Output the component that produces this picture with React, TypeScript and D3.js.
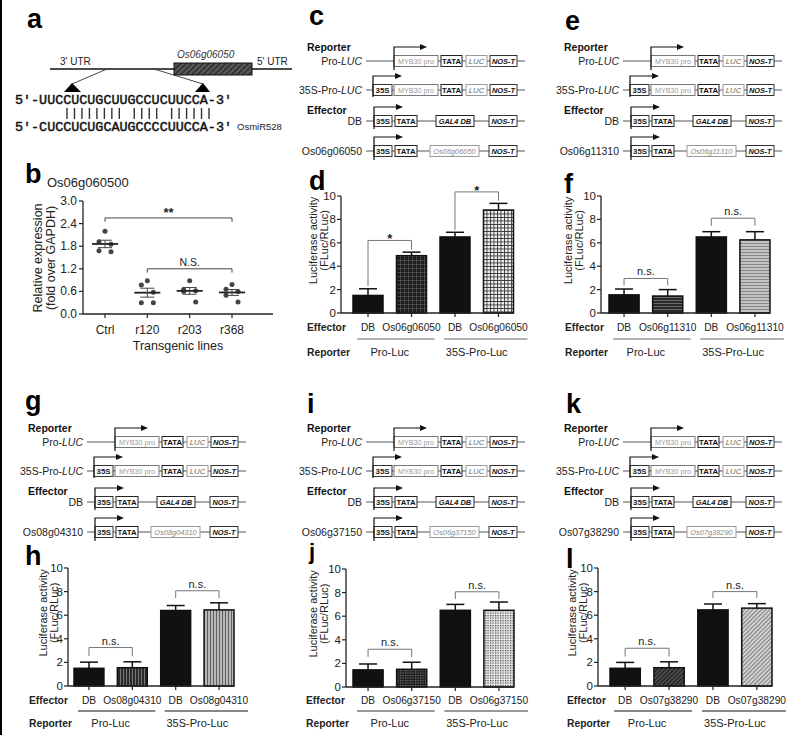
import React from "react";
import * as d3 from "d3";

const FONT = "'Liberation Sans', Arial, Helvetica, sans-serif";
const MONO = "'Liberation Mono', 'Courier New', monospace";

// ---------- Panel a data ----------
const targetSeq = "UUCCUCUGCUUGCCUCUUCCA";
const mirSeq = "CUCCUCUGCAUGCCCCUUCCA";

// ---------- Panel b data ----------
const bCategories = ["Ctrl", "r120", "r203", "r368"];
const bCtrl = [2.2, 1.92, 1.85, 1.68, 1.65];
const bR120 = [0.88, 0.77, 0.58, 0.3, 0.3];
const bR203 = [0.88, 0.65, 0.62, 0.6, 0.32];
const bR368 = [0.78, 0.66, 0.6, 0.5, 0.32];
const bJitter = [0, -6, 6, -6, 6];
const bYTicks = [0, 0.6, 1.2, 1.8, 2.4, 3.0];

// ---------- Bar panels data ----------
const barTicks = [0, 2, 4, 6, 8, 10];
const reporters = ["Pro-Luc", "35S-Pro-Luc"];

const dEffectors = ["DB", "Os06g06050", "DB", "Os06g06050"];
const dValues = [1.5, 4.9, 6.5, 8.8];
const dErrors = [0.57, 0.3, 0.4, 0.57];
const dBrackets = [
  { a: 0, b: 1, y: 6.2, la: 2.3, ra: 5.4, label: "*" },
  { a: 2, b: 3, y: 10.35, la: 7.1, ra: 9.6, label: "*" },
];

const fEffectors = ["DB", "Os06g11310", "DB", "Os06g11310"];
const fValues = [1.55, 1.45, 6.5, 6.25];
const fErrors = [0.5, 0.55, 0.45, 0.7];
const fBrackets = [
  { a: 0, b: 1, y: 2.95, la: 2.35, ra: 2.35, label: "n.s." },
  { a: 2, b: 3, y: 8.1, la: 7.45, ra: 7.45, label: "n.s." },
];

const hEffectors = ["DB", "Os08g04310", "DB", "Os08g04310"];
const hValues = [1.5, 1.55, 6.4, 6.45];
const hErrors = [0.52, 0.5, 0.42, 0.6];
const hBrackets = [
  { a: 0, b: 1, y: 3.26, la: 2.55, ra: 2.55, label: "n.s." },
  { a: 2, b: 3, y: 8.07, la: 7.45, ra: 7.45, label: "n.s." },
];

const jEffectors = ["DB", "Os06g37150", "DB", "Os06g37150"];
const jValues = [1.45, 1.5, 6.5, 6.5];
const jErrors = [0.5, 0.6, 0.5, 0.7];
const jBrackets = [
  { a: 0, b: 1, y: 3.2, la: 2.55, ra: 2.55, label: "n.s." },
  { a: 2, b: 3, y: 8.07, la: 7.45, ra: 7.45, label: "n.s." },
];

const lEffectors = ["DB", "Os07g38290", "DB", "Os07g38290"];
const lValues = [1.5, 1.55, 6.45, 6.6];
const lErrors = [0.5, 0.5, 0.5, 0.38];
const lBrackets = [
  { a: 0, b: 1, y: 3.2, la: 2.5, ra: 2.5, label: "n.s." },
  { a: 2, b: 3, y: 8.0, la: 7.45, ra: 7.45, label: "n.s." },
];

// ---------- Construct genes ----------
const geneC = "Os06g06050";
const geneE = "Os06g11310";
const geneG = "Os08g04310";
const geneI = "Os06g37150";
const geneK = "Os07g38290";

// ================= components =================

function PanelLetter({ x, y, t, size = 27 }: { x: number; y: number; t: string; size?: number }) {
  return (
    <text x={x} y={y} fontFamily={FONT} fontWeight="bold" fontSize={size} fill="#000">
      {t}
    </text>
  );
}

function PanelA() {
  const x0 = 15;
  const pairs = d3.range(targetSeq.length).filter((i) => targetSeq[i] === mirSeq[i]);
  const barX = d3.scaleLinear().domain([1, 20]).range([67, 209]);
  return (
    <g fontFamily={FONT}>
      <text x={60} y={65} fontSize={10} fill="#222">3' UTR</text>
      <text x={177} y={58} fontSize={10} fontStyle="italic" fill="#333">Os06g06050</text>
      <text x={257} y={65} fontSize={10} fill="#222">5' UTR</text>
      <line x1={50} x2={292} y1={69} y2={69} stroke="#111" strokeWidth={1.3} />
      <rect x={174} y={63} width={78} height={12} fill="url(#hatchA)" stroke="#111" strokeWidth={1} />
      <line x1={107} y1={69} x2={72} y2={84} stroke="#333" strokeWidth={0.9} />
      <line x1={154} y1={69} x2={203} y2={84} stroke="#333" strokeWidth={0.9} />
      <path d="M72,83 L64,92 L81,92 Z" fill="#000" />
      <path d="M203,83 L195,92 L210,92 Z" fill="#000" />
      <text x={x0} y={104} fontFamily={MONO} fontSize={13.4} fill="#111" stroke="#111" strokeWidth={0.45}>
        {"5'-" + targetSeq + "-3'"}
      </text>
      {pairs.map((i) => (
        <line key={i} x1={barX(i)} x2={barX(i)} y1={108} y2={119} stroke="#333" strokeWidth={1.4} />
      ))}
      <text x={x0} y={131} fontFamily={MONO} fontSize={13.4} fill="#111" stroke="#111" strokeWidth={0.45}>
        {"5'-" + mirSeq + "-3'"}
      </text>
      <text x={237} y={130} fontSize={9.5} fill="#222">OsmiR528</text>
    </g>
  );
}

function PanelB() {
  const y = d3.scaleLinear().domain([0, 3]).range([314, 201]);
  const x = d3.scalePoint().domain(bCategories).range([105, 232]);
  const groups = [bCtrl, bR120, bR203, bR368];
  const axisX = 83;
  return (
    <g fontFamily={FONT} fill="#222">
      <text x={47} y={187} fontSize={13} fill="#222">Os06g060500</text>
      <line x1={axisX} x2={axisX} y1={201} y2={314} stroke="#222" strokeWidth={1.3} />
      <line x1={axisX} x2={273} y1={314} y2={314} stroke="#222" strokeWidth={1.3} />
      {bYTicks.map((t) => (
        <g key={t}>
          <line x1={axisX - 4} x2={axisX} y1={y(t)} y2={y(t)} stroke="#222" strokeWidth={1.2} />
          <text x={axisX - 6} y={y(t) + 4} fontSize={12} textAnchor="end">{t.toFixed(1)}</text>
        </g>
      ))}
      {bCategories.map((c) => (
        <g key={c}>
          <line x1={x(c)!} x2={x(c)!} y1={314} y2={318} stroke="#222" strokeWidth={1.2} />
          <text x={x(c)!} y={334} fontSize={12} textAnchor="middle">{c}</text>
        </g>
      ))}
      <text x={178} y={350} fontSize={12.5} textAnchor="middle">Transgenic lines</text>
      <g transform={`translate(42,258) rotate(-90)`}>
        <text fontSize={12.5} textAnchor="middle">Relative expression</text>
      </g>
      <g transform={`translate(55,258) rotate(-90)`}>
        <text fontSize={12.5} textAnchor="middle">(fold over GAPDH)</text>
      </g>
      {groups.map((vals, gi) => {
        const cx = x(bCategories[gi])!;
        const mean = d3.mean(vals)!;
        const sem = d3.deviation(vals)! / Math.sqrt(vals.length);
        return (
          <g key={gi}>
            {vals.map((v, i) => (
              <circle key={i} cx={cx + bJitter[i]} cy={y(v)} r={2.5} fill="#444" />
            ))}
            <line x1={cx - 13} x2={cx + 13} y1={y(mean)} y2={y(mean)} stroke="#222" strokeWidth={1.8} />
            <line x1={cx} x2={cx} y1={y(mean - sem)} y2={y(mean + sem)} stroke="#444" strokeWidth={1} />
            <line x1={cx - 7} x2={cx + 7} y1={y(mean + sem)} y2={y(mean + sem)} stroke="#444" strokeWidth={1} />
            <line x1={cx - 7} x2={cx + 7} y1={y(mean - sem)} y2={y(mean - sem)} stroke="#444" strokeWidth={1} />
          </g>
        );
      })}
      <path d={`M${x("Ctrl")},${y(2.45)} V${y(2.55)} H${x("r368")} V${y(2.45)}`} fill="none" stroke="#444" strokeWidth={1} />
      <text x={(x("Ctrl")! + x("r368")!) / 2} y={y(2.55) - 1} fontSize={13} fontWeight="bold" textAnchor="middle">**</text>
      <path d={`M${x("r120")},${y(1.1)} V${y(1.2)} H${x("r368")} V${y(1.1)}`} fill="none" stroke="#444" strokeWidth={1} />
      <text x={(x("r120")! + x("r368")!) / 2} y={y(1.2) - 3} fontSize={10.5} textAnchor="middle">N.S.</text>
    </g>
  );
}

type BoxKind = "pro" | "tata" | "luc" | "nos" | "s35" | "gal" | "gene";
const boxStyle: Record<BoxKind, { stroke: string; fill: string; size: number; weight: string; italic: boolean }> = {
  pro: { stroke: "#777", fill: "#999", size: 7.2, weight: "normal", italic: false },
  tata: { stroke: "#222", fill: "#111", size: 7.8, weight: "bold", italic: false },
  luc: { stroke: "#999", fill: "#666", size: 7.8, weight: "normal", italic: true },
  nos: { stroke: "#333", fill: "#111", size: 7.4, weight: "bold", italic: true },
  s35: { stroke: "#333", fill: "#222", size: 7.8, weight: "bold", italic: false },
  gal: { stroke: "#222", fill: "#111", size: 7.4, weight: "bold", italic: true },
  gene: { stroke: "#999", fill: "#888", size: 7.4, weight: "normal", italic: true },
};

function Construct({ dx, dy, gene }: { dx: number; dy: number; gene: string }) {
  const rowsY = [61, 90, 121, 151];
  const rows: { x0: number; x1: number; label: string; kind: BoxKind }[][] = [
    [
      { x0: 394, x1: 438, label: "MYB30 pro", kind: "pro" },
      { x0: 441, x1: 462, label: "TATA", kind: "tata" },
      { x0: 466, x1: 487, label: "LUC", kind: "luc" },
      { x0: 490, x1: 517, label: "NOS-T", kind: "nos" },
    ],
    [
      { x0: 373, x1: 392, label: "35S", kind: "s35" },
      { x0: 394, x1: 438, label: "MYB30 pro", kind: "pro" },
      { x0: 441, x1: 462, label: "TATA", kind: "tata" },
      { x0: 466, x1: 487, label: "LUC", kind: "luc" },
      { x0: 490, x1: 517, label: "NOS-T", kind: "nos" },
    ],
    [
      { x0: 374, x1: 392, label: "35S", kind: "s35" },
      { x0: 395, x1: 417, label: "TATA", kind: "tata" },
      { x0: 436, x1: 474, label: "GAL4 DB", kind: "gal" },
      { x0: 489, x1: 517, label: "NOS-T", kind: "nos" },
    ],
    [
      { x0: 374, x1: 392, label: "35S", kind: "s35" },
      { x0: 395, x1: 417, label: "TATA", kind: "tata" },
      { x0: 430, x1: 479, label: gene, kind: "gene" },
      { x0: 489, x1: 517, label: "NOS-T", kind: "nos" },
    ],
  ];
  const arrows = [
    { x: 394, top: 47, bot: 70, end: 427 },
    { x: 373, top: 76, bot: 97, end: 402 },
    { x: 374, top: 107, bot: 129, end: 403 },
    { x: 374, top: 137, bot: 160, end: 403 },
  ];
  const labels: React.ReactNode[] = [
    <>Pro-<tspan fontStyle="italic">LUC</tspan></>,
    <>35S-Pro-<tspan fontStyle="italic">LUC</tspan></>,
    <>DB</>,
    <>{gene}</>,
  ];
  return (
    <g transform={`translate(${dx},${dy})`} fontFamily={FONT}>
      <text x={307} y={51} fontSize={10.5} fontWeight="bold" fill="#111">Reporter</text>
      <text x={307} y={114} fontSize={10.5} fontWeight="bold" fill="#111">Effector</text>
      {rows.map((row, ri) => {
        const ry = rowsY[ri];
        const a = arrows[ri];
        return (
          <g key={ri}>
            <text x={362} y={ry + 4} fontSize={10.5} textAnchor="end" fill="#222">{labels[ri]}</text>
            <line x1={366} x2={525} y1={ry} y2={ry} stroke="#555" strokeWidth={1} />
            {row.map((b, bi) => {
              const s = boxStyle[b.kind];
              return (
                <g key={bi}>
                  <rect x={b.x0} y={ry - 5.5} width={b.x1 - b.x0} height={11} fill="#fff" stroke={s.stroke} strokeWidth={1} />
                  <text
                    x={(b.x0 + b.x1) / 2}
                    y={ry + 3}
                    fontSize={s.size}
                    fontWeight={s.weight}
                    fontStyle={s.italic ? "italic" : "normal"}
                    textAnchor="middle"
                    fill={s.fill}
                  >
                    {b.label}
                  </text>
                </g>
              );
            })}
            <path d={`M${a.x},${a.bot} V${a.top} H${a.end - 6}`} fill="none" stroke="#111" strokeWidth={1.2} />
            <path d={`M${a.end},${a.top} L${a.end - 7},${a.top - 3} L${a.end - 7},${a.top + 3} Z`} fill="#111" />
          </g>
        );
      })}
    </g>
  );
}

type Layout = {
  axisX: number; yTop: number; yBot: number; x0: number; x1: number;
  effY: number; lineY: number; repY: number; labelX: number; yLabX: number; lineColor: string;
};
type Bracket = { a: number; b: number; y: number; la: number; ra: number; label: string };

function BarPanel({ L, effectors, values, errors, brackets, fills }: {
  L: Layout; effectors: string[]; values: number[]; errors: number[]; brackets: Bracket[]; fills: string[];
}) {
  const y = d3.scaleLinear().domain([0, 10]).range([L.yBot, L.yTop]);
  const x = d3.scaleBand<number>().domain(d3.range(values.length)).range([L.x0, L.x1]).paddingInner(0.31).paddingOuter(0);
  const bw = x.bandwidth();
  const cx = (i: number) => x(i)! + bw / 2;
  const cy = L.yTop + 0.38 * (L.yBot - L.yTop);
  return (
    <g fontFamily={FONT} fill="#222">
      <line x1={L.axisX} x2={L.axisX} y1={L.yTop} y2={L.yBot} stroke="#222" strokeWidth={1.3} />
      {barTicks.map((t) => (
        <g key={t}>
          <line x1={L.axisX - 4} x2={L.axisX} y1={y(t)} y2={y(t)} stroke="#222" strokeWidth={1.2} />
          <text x={L.axisX - 5} y={y(t) + 4} fontSize={11.5} textAnchor="end">{t}</text>
        </g>
      ))}
      <g transform={`translate(${L.yLabX + 4},${cy}) rotate(-90)`}>
        <text fontSize={11} textAnchor="middle">Luciferase activity</text>
      </g>
      <g transform={`translate(${L.yLabX + 15},${cy}) rotate(-90)`}>
        <text fontSize={11} textAnchor="middle">(FLuc/RLuc)</text>
      </g>
      {values.map((v, i) => (
        <g key={i}>
          <line x1={cx(i)} x2={cx(i)} y1={y(v)} y2={y(v + errors[i])} stroke="#111" strokeWidth={1.5} />
          <line x1={cx(i) - 9} x2={cx(i) + 9} y1={y(v + errors[i])} y2={y(v + errors[i])} stroke="#111" strokeWidth={1.5} />
          <rect x={x(i)!} y={y(v)} width={bw} height={y(0) - y(v)} fill={fills[i]} stroke="#111" strokeWidth={1.5} />
          <line x1={cx(i)} x2={cx(i)} y1={L.yBot} y2={L.yBot + 4} stroke="#222" strokeWidth={1.2} />
          <text x={cx(i)} y={L.effY} fontSize={10.2} textAnchor="middle">{effectors[i]}</text>
        </g>
      ))}
      <line x1={L.axisX} x2={L.x1} y1={L.yBot} y2={L.yBot} stroke="#222" strokeWidth={1.3} />
      {brackets.map((b, i) => (
        <g key={i}>
          <path
            d={`M${cx(b.a)},${y(b.la)} V${y(b.y)} H${cx(b.b)} V${y(b.ra)}`}
            fill="none" stroke="#777" strokeWidth={1}
          />
          {b.label === "*" ? (
            <text x={(cx(b.a) + cx(b.b)) / 2} y={y(b.y) + 3} fontSize={13} textAnchor="middle" fontWeight="bold">*</text>
          ) : (
            <text x={(cx(b.a) + cx(b.b)) / 2} y={y(b.y) - 3} fontSize={11} textAnchor="middle">{b.label}</text>
          )}
        </g>
      ))}
      <text x={L.labelX} y={L.effY} fontSize={10.3} fontWeight="bold">Effector</text>
      <text x={L.labelX} y={L.repY} fontSize={10.3} fontWeight="bold">Reporter</text>
      <line x1={cx(0) - 11} x2={cx(1) + 23} y1={L.lineY} y2={L.lineY} stroke={L.lineColor} strokeWidth={1.2} />
      <line x1={cx(2) - 11} x2={cx(3) + 29} y1={L.lineY} y2={L.lineY} stroke={L.lineColor} strokeWidth={1.2} />
      <text x={(cx(0) + cx(1)) / 2} y={L.repY} fontSize={11} textAnchor="middle">{reporters[0]}</text>
      <text x={(cx(2) + cx(3)) / 2} y={L.repY} fontSize={11} textAnchor="middle">{reporters[1]}</text>
    </g>
  );
}

function Defs() {
  return (
    <defs>
      <pattern id="hatchA" width="4" height="4" patternUnits="userSpaceOnUse" patternTransform="rotate(45)">
        <rect width="4" height="4" fill="#555" />
        <line x1="0" y1="0" x2="0" y2="4" stroke="#111" strokeWidth="1.6" />
      </pattern>
      <pattern id="gridDark" width="4" height="4" patternUnits="userSpaceOnUse">
        <rect width="4" height="4" fill="#1c1c1c" />
        <path d="M0,0.5 H4 M0.5,0 V4" stroke="#5a5a5a" strokeWidth="0.7" />
      </pattern>
      <pattern id="gridLight" width="3.5" height="3.5" patternUnits="userSpaceOnUse">
        <rect width="3.5" height="3.5" fill="#f2f2f2" />
        <path d="M0,0.5 H3.5 M0.5,0 V3.5" stroke="#333" strokeWidth="0.9" />
      </pattern>
      <pattern id="hDark" width="4" height="3" patternUnits="userSpaceOnUse">
        <rect width="4" height="3" fill="#2a2a2a" />
        <path d="M0,0.5 H4" stroke="#777" strokeWidth="0.8" />
      </pattern>
      <pattern id="hLight" width="4" height="3" patternUnits="userSpaceOnUse">
        <rect width="4" height="3" fill="#c4c4c4" />
        <path d="M0,0.5 H4" stroke="#777" strokeWidth="0.8" />
      </pattern>
      <pattern id="vDark" width="3" height="4" patternUnits="userSpaceOnUse">
        <rect width="3" height="4" fill="#2a2a2a" />
        <path d="M0.5,0 V4" stroke="#888" strokeWidth="0.8" />
      </pattern>
      <pattern id="vLight" width="3" height="4" patternUnits="userSpaceOnUse">
        <rect width="3" height="4" fill="#b8b8b8" />
        <path d="M0.5,0 V4" stroke="#555" strokeWidth="0.9" />
      </pattern>
      <pattern id="dotDark" width="2.5" height="2.5" patternUnits="userSpaceOnUse">
        <rect width="2.5" height="2.5" fill="#222" />
        <rect width="1" height="1" fill="#888" />
      </pattern>
      <pattern id="dotLight" width="2.5" height="2.5" patternUnits="userSpaceOnUse">
        <rect width="2.5" height="2.5" fill="#e6e6e6" />
        <rect width="1.2" height="1.2" fill="#444" />
      </pattern>
      <pattern id="diagDark" width="3" height="3" patternUnits="userSpaceOnUse" patternTransform="rotate(45)">
        <rect width="3" height="3" fill="#2a2a2a" />
        <line x1="0" y1="0" x2="0" y2="3" stroke="#999" strokeWidth="0.9" />
      </pattern>
      <pattern id="diagLight" width="3" height="3" patternUnits="userSpaceOnUse" patternTransform="rotate(45)">
        <rect width="3" height="3" fill="#d0d0d0" />
        <line x1="0" y1="0" x2="0" y2="3" stroke="#333" strokeWidth="1" />
      </pattern>
    </defs>
  );
}

const BLACK = "#111";

export default function App() {
  const Ld: Layout = { axisX: 341, yTop: 196, yBot: 313, x0: 353, x1: 513.5, effY: 331, lineY: 339, repY: 356, labelX: 307, yLabX: 313, lineColor: "#666" };
  const Lf: Layout = { axisX: 601, yTop: 196, yBot: 313, x0: 609, x1: 770, effY: 331, lineY: 339, repY: 356, labelX: 565, yLabX: 568, lineColor: "#666" };
  const Lh: Layout = { axisX: 68, yTop: 568, yBot: 686, x0: 74, x1: 234, effY: 704, lineY: 711, repY: 727, labelX: 29, yLabX: 43, lineColor: "#111" };
  const Lj: Layout = { axisX: 346, yTop: 569, yBot: 687, x0: 353, x1: 514, effY: 704, lineY: 711, repY: 727, labelX: 306, yLabX: 313, lineColor: "#333" };
  const Ll: Layout = { axisX: 598, yTop: 568, yBot: 686, x0: 610, x1: 772, effY: 704, lineY: 711, repY: 727, labelX: 567, yLabX: 572, lineColor: "#111" };
  return (
    <svg
      width={793}
      height={735}
      viewBox="0 0 793 735"
      style={{ position: "absolute", left: 0, top: 0, background: "#fff" }}
    >
      <Defs />
      <rect x={0} y={0} width={793} height={735} fill="#fff" />
      <rect x={0} y={0} width={2} height={735} fill="#000" />
      <PanelLetter x={27} y={28} t="a" />
      <PanelLetter x={25} y={183} t="b" />
      <PanelLetter x={309} y={25} t="c" />
      <PanelLetter x={309} y={190} t="d" />
      <PanelLetter x={565} y={30} t="e" />
      <PanelLetter x={564} y={193} t="f" />
      <PanelLetter x={25} y={410} t="g" />
      <PanelLetter x={25} y={565} t="h" />
      <PanelLetter x={307} y={413} t="i" />
      <PanelLetter x={309} y={559} t="j" size={22} />
      <PanelLetter x={566} y={413} t="k" />
      <PanelLetter x={566} y={568} t="l" />

      <PanelA />
      <PanelB />

      <Construct dx={0} dy={0} gene={geneC} />
      <Construct dx={257} dy={0} gene={geneE} />
      <Construct dx={-279} dy={381} gene={geneG} />
      <Construct dx={0} dy={381} gene={geneI} />
      <Construct dx={257} dy={381} gene={geneK} />

      <BarPanel L={Ld} effectors={dEffectors} values={dValues} errors={dErrors} brackets={dBrackets} fills={[BLACK, "url(#gridDark)", BLACK, "url(#gridLight)"]} />
      <BarPanel L={Lf} effectors={fEffectors} values={fValues} errors={fErrors} brackets={fBrackets} fills={[BLACK, "url(#hDark)", BLACK, "url(#hLight)"]} />
      <BarPanel L={Lh} effectors={hEffectors} values={hValues} errors={hErrors} brackets={hBrackets} fills={[BLACK, "url(#vDark)", BLACK, "url(#vLight)"]} />
      <BarPanel L={Lj} effectors={jEffectors} values={jValues} errors={jErrors} brackets={jBrackets} fills={[BLACK, "url(#dotDark)", BLACK, "url(#dotLight)"]} />
      <BarPanel L={Ll} effectors={lEffectors} values={lValues} errors={lErrors} brackets={lBrackets} fills={[BLACK, "url(#diagDark)", BLACK, "url(#diagLight)"]} />
    </svg>
  );
}
